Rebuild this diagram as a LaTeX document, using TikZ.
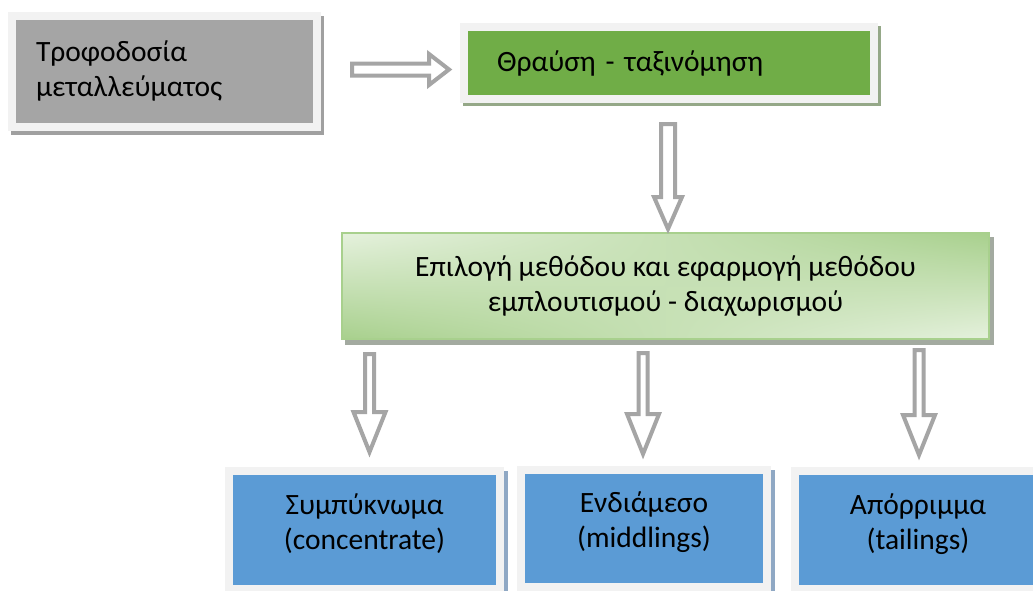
\documentclass[tikz,border=0pt]{standalone}
\usepackage{fontspec}
\setmainfont{Carlito}
\usetikzlibrary{calc,backgrounds,shadings}
\definecolor{framecol}{HTML}{F2F2F2}
\definecolor{graybox}{HTML}{A5A5A5}
\definecolor{grayshadow}{HTML}{A0A0A0}
\definecolor{greenbox}{HTML}{70AD47}
\definecolor{greenshadow}{HTML}{95A888}
\definecolor{lightgreen}{HTML}{E5F1DD}
\definecolor{midgreen}{HTML}{A8D08D}
\definecolor{boxshadow3}{HTML}{A3AAA0}
\definecolor{bluebox}{HTML}{5B9BD5}
\definecolor{blueshadow}{HTML}{8FA8C4}
\definecolor{arrowgray}{HTML}{A5A5A5}
\tikzset{
  txt/.style={font=\fontsize{29.5}{35}\selectfont, text=black},
  framed/.style={txt, draw=framecol, line width=8pt, rectangle},
  result/.style={framed, fill=bluebox, align=center, text depth=17pt},
  blockarrow/.style={draw=arrowgray, fill=white, line width=4pt, miter limit=10},
}
\newcommand{\vblock}[5]{%
  \draw[blockarrow] ($(#1)+(-#3,0)$) -- ($(#2)+(-#3,-#5)$) -- ($(#2)+(-#4,-#5)$) -- (#2)
    -- ($(#2)+(#4,-#5)$) -- ($(#2)+(#3,-#5)$) -- ($(#1)+(#3,0)$) -- cycle;}
\newcommand{\hblock}[5]{%
  \draw[blockarrow] ($(#1)+(0,-#3)$) -- ($(#2)+(-#5,-#3)$) -- ($(#2)+(-#5,-#4)$) -- (#2)
    -- ($(#2)+(-#5,#4)$) -- ($(#2)+(-#5,#3)$) -- ($(#1)+(0,#3)$) -- cycle;}
\begin{document}
\begin{tikzpicture}[x=1pt,y=-1pt]
\clip (0,0) rectangle (1033,590);

% boxes
\node[framed, fill=graybox, minimum width=305pt, minimum height=111pt,
      text width=257pt, inner xsep=24pt, align=left] (b1) at (164.5,71)
      {Τροφοδοσία\\μεταλλεύματος};
\node[framed, fill=greenbox, minimum width=410pt, minimum height=72pt,
      text width=344pt, inner xsep=33pt, align=left] (b2) at (669,63)
      {Θραύση - ταξινόμηση};
\node[txt, draw=midgreen, line width=1.2pt,
      upper left=lightgreen, lower right=lightgreen,
      upper right=midgreen, lower left=midgreen,
      minimum width=647pt, minimum height=106pt, align=center] (b3) at (665.5,286)
      {Επιλογή μεθόδου και εφαρμογή μεθόδου\\εμπλουτισμού - διαχωρισμού};
\node[result, minimum width=271pt, minimum height=118pt] (c1) at (364.5,530)
      {Συμπύκνωμα\\(concentrate)};
\node[result, minimum width=246pt, minimum height=117pt] (c2) at (644,528.5)
      {Ενδιάμεσο\\(middlings)};
\node[result, minimum width=246pt, minimum height=118pt] (c3) at (918,530)
      {Απόρριμμα\\(tailings)};

% background and shadows
\begin{scope}[on background layer]
  \fill[white] (0,0) rectangle (1033,590);
  \fill[grayshadow] ($(b1.north west)+(3,4)$) rectangle ($(b1.south east)+(3,4)$);
  \fill[greenshadow] ($(b2.north west)+(3,3)$) rectangle ($(b2.south east)+(3,3)$);
  \fill[boxshadow3] ($(b3.north west)+(4,5)$) rectangle ($(b3.south east)+(4,5)$);
  \fill[blueshadow] ($(c1.north west)+(4,4)$) rectangle ($(c1.south east)+(4,4)$);
  \fill[blueshadow] ($(c2.north west)+(4,4)$) rectangle ($(c2.south east)+(4,4)$);
\end{scope}

% arrows
\coordinate (r1s) at (352,69.5);
\coordinate (r1e) at (449,69.5);
\hblock{r1s}{r1e}{6}{15.5}{20}
\coordinate (d1s) at (668,124);
\coordinate (d1e) at (668,229);
\vblock{d1s}{d1e}{7}{14}{32}
\coordinate (d2s) at (369.5,354);
\coordinate (d2e) at (369.5,452);
\vblock{d2s}{d2e}{4.5}{16}{40}
\coordinate (d3s) at (643,353);
\coordinate (d3e) at (643,454);
\vblock{d3s}{d3e}{4.5}{16}{40}
\coordinate (d4s) at (919,350);
\coordinate (d4e) at (919,455);
\vblock{d4s}{d4e}{4.5}{16}{40}
\end{tikzpicture}
\end{document}
